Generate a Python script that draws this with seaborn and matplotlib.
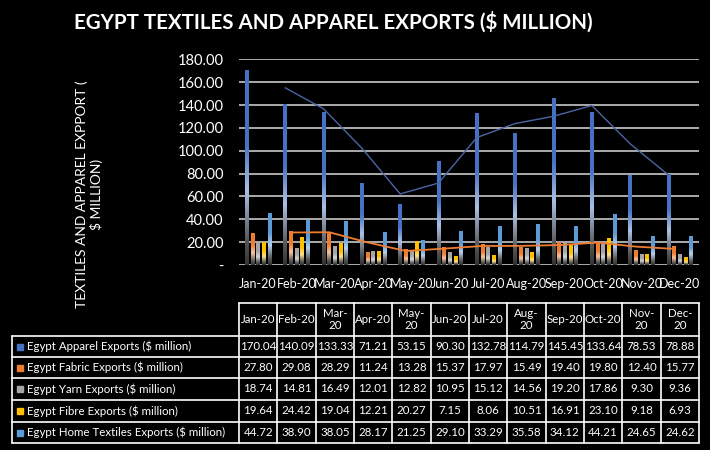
import numpy as np
import pandas as pd
import matplotlib
matplotlib.use("Agg")
import matplotlib.pyplot as plt
from matplotlib.colors import LinearSegmentedColormap, to_rgb
import seaborn as sns

# ---------------- data ----------------
months = ["Jan-20", "Feb-20", "Mar-20", "Apr-20", "May-20", "Jun-20",
          "Jul-20", "Aug-20", "Sep-20", "Oct-20", "Nov-20", "Dec-20"]
header_labels = ["Jan-20", "Feb-20", "Mar-\n20", "Apr-20", "May-\n20", "Jun-20",
                 "Jul-20", "Aug-\n20", "Sep-20", "Oct-20", "Nov-\n20", "Dec-\n20"]
series_names = ["Egypt Apparel Exports ($ million)",
                "Egypt Fabric Exports ($ million)",
                "Egypt Yarn Exports ($ million)",
                "Egypt Fibre Exports ($ million)",
                "Egypt Home Textiles Exports ($ million)"]
apparel = [170.04, 140.09, 133.33, 71.21, 53.15, 90.30, 132.78, 114.79, 145.45, 133.64, 78.53, 78.88]
fabric = [27.80, 29.08, 28.29, 11.24, 13.28, 15.37, 17.97, 15.49, 19.40, 19.80, 12.40, 15.77]
yarn = [18.74, 14.81, 16.49, 12.01, 12.82, 10.95, 15.12, 14.56, 19.20, 17.86, 9.30, 9.36]
fibre = [19.64, 24.42, 19.04, 12.21, 20.27, 7.15, 8.06, 10.51, 16.91, 23.10, 9.18, 6.93]
home = [44.72, 38.90, 38.05, 28.17, 21.25, 29.10, 33.29, 35.58, 34.12, 44.21, 24.65, 24.62]
series_values = [apparel, fabric, yarn, fibre, home]
colors = ["#4472C4", "#ED7D31", "#A5A5A5", "#FFC000", "#5B9BD5"]
yticks = [0, 20, 40, 60, 80, 100, 120, 140, 160, 180]
ytick_labels = ["-", "20.00", "40.00", "60.00", "80.00", "100.00", "120.00", "140.00", "160.00", "180.00"]
title = "EGYPT TEXTILES AND APPAREL EXPORTS ($ MILLION)"
ylabel = "TEXTILES AND APPAREL EXPPORT (\n$ MILLION)"

df = pd.DataFrame({
    "month": np.tile(months, len(series_names)),
    "series": np.repeat(series_names, len(months)),
    "value": np.concatenate(series_values),
})

# ---------------- style ----------------
sns.set_style("dark")
plt.rcParams["font.family"] = ["Lato", "DejaVu Sans"]
plt.rcParams["text.color"] = "white"

W, H = 710, 450
fig = plt.figure(figsize=(W / 100, H / 100), dpi=100, facecolor="black")
ax = fig.add_axes([239 / W, 1 - 265 / H, (699 - 239) / W, (265 - 59.3) / H])
ax.set_facecolor("black")

sns.barplot(data=df, x="month", y="value", hue="series", hue_order=series_names,
            order=months, palette=colors, saturation=1, width=0.74, gap=0.3,
            ax=ax, legend=False, zorder=3, errorbar=None)

# gradient fills
grad = np.linspace(0, 1, 256).reshape(-1, 1)
for cont, col in zip(ax.containers, colors):
    c = np.array(to_rgb(col))
    light = c + (1 - c) * 0.55
    cmap = LinearSegmentedColormap.from_list(
        "g", [(0, (0.2, 0.2, 0.2)), (0.12, (0.33, 0.33, 0.33)),
              (0.38, light), (0.62, c), (1, c)])
    for p in cont:
        x0, w, h = p.get_x(), p.get_width(), p.get_height()
        ax.imshow(grad, cmap=cmap, extent=[x0, x0 + w, 0, h], aspect="auto",
                  origin="lower", zorder=3, interpolation="bilinear")
        p.set_facecolor("none")
        p.set_edgecolor("none")

# moving-average trendlines (2 period) at the bar positions of the series
for idx, col, lw in [(0, "#4A66A5", 1.0), (1, "#ED7D31", 1.3)]:
    xs = [p.get_x() + p.get_width() / 2 for p in ax.containers[idx]]
    ma = pd.Series(series_values[idx]).rolling(2).mean()
    sns.lineplot(x=xs[1:], y=ma.values[1:], color=col, lw=lw, ax=ax, zorder=4)

ax.set_xlim(-0.5, len(months) - 0.5)
ax.set_ylim(0, 180)
ax.set_yticks(yticks)
ax.set_yticklabels(ytick_labels)
ax.yaxis.grid(True, color="#D9D9D9", lw=1.1, zorder=1)
ax.xaxis.grid(False)
ax.set_axisbelow(True)
for s in ax.spines.values():
    s.set_visible(False)
ax.tick_params(axis="y", length=0, colors="white", labelsize=10.5, pad=11)
ax.tick_params(axis="x", length=0, colors="white", labelsize=9, pad=9)
ax.set_xlabel("")
ax.set_ylabel("")

fig.text(333.5 / W, 1 - 22 / H, title, ha="center", va="center", fontsize=14.8,
         fontweight="bold", color="white")
fig.text(89 / W, 1 - 194 / H, ylabel, rotation=90, ha="center", va="center",
         multialignment="center", fontsize=10, color="white", linespacing=1.15)

# ---------------- data table ----------------
tax = fig.add_axes([0, 0, 1, 1])
tax.set_xlim(0, W)
tax.set_ylim(H, 0)
tax.axis("off")
tax.patch.set_alpha(0)

col_edges = [ax.transData.transform((i - 0.5, 0))[0] for i in range(len(months) + 1)]
row_edges = [303, 336, 357, 378, 400, 422, 443]
left = 12
lc = dict(color="white", lw=1.2)
tax.plot([col_edges[0], col_edges[-1]], [row_edges[0]] * 2, **lc)
for y in row_edges[1:]:
    tax.plot([left, col_edges[-1]], [y, y], **lc)
for x in col_edges:
    tax.plot([x, x], [row_edges[0], row_edges[-1]], **lc)
tax.plot([left, left], [row_edges[1], row_edges[-1]], **lc)

fs = 8.3
hy = (row_edges[0] + row_edges[1]) / 2
for i, lab in enumerate(header_labels):
    cx = (col_edges[i] + col_edges[i + 1]) / 2
    tax.text(cx, hy, lab, ha="center", va="center", fontsize=fs,
             color="white", linespacing=1.15)

for r, (name, vals, col) in enumerate(zip(series_names, series_values, colors)):
    cy = (row_edges[r + 1] + row_edges[r + 2]) / 2
    tax.add_patch(plt.Rectangle((17, cy - 3), 6, 6, color=col))
    tax.text(27, cy, name, ha="left", va="center", fontsize=fs, color="white")
    for i, v in enumerate(vals):
        cx = (col_edges[i] + col_edges[i + 1]) / 2
        tax.text(cx, cy, f"{v:.2f}", ha="center", va="center", fontsize=fs,
                 color="white")

fig.savefig("out.png", dpi=100, facecolor="black")
